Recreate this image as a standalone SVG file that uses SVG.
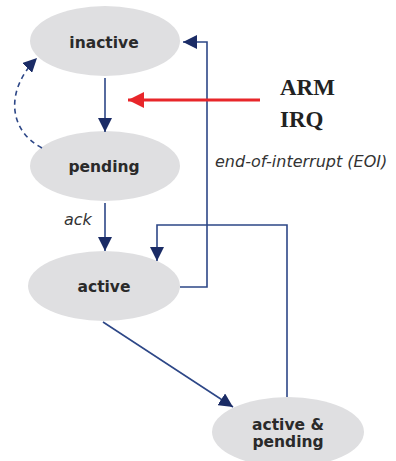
<svg xmlns="http://www.w3.org/2000/svg" width="396" height="461" viewBox="0 0 396 461">
<style>
.node{fill:#dfdfe1}
.lbl{font-family:"DejaVu Sans",sans-serif;font-weight:bold;font-size:15.5px;fill:#2a2a2a;text-anchor:middle}
.edge{fill:none;stroke:#2d4787;stroke-width:1.6}
.it{font-family:"DejaVu Sans",sans-serif;font-style:italic;font-size:16px;fill:#333}
.arm{font-family:"Liberation Serif",serif;font-weight:bold;font-size:23px;fill:#222}
</style>
<defs>
<marker id="ah" viewBox="0 0 10 10" refX="10" refY="5" markerWidth="14" markerHeight="14" markerUnits="userSpaceOnUse" orient="auto">
<path d="M0,0 L10,5 L0,10 z" fill="#1b2c66"/>
</marker>
<marker id="rh" viewBox="0 0 10 10" refX="10" refY="5" markerWidth="16" markerHeight="16" markerUnits="userSpaceOnUse" orient="auto">
<path d="M0,0 L10,5 L0,10 z" fill="#e8262a"/>
</marker>
</defs>
<g id="n-inactive"><ellipse class="node" cx="105" cy="41" rx="75" ry="35"/><text class="lbl" x="104" y="48">inactive</text></g>
<g id="n-pending"><ellipse class="node" cx="105" cy="166" rx="75" ry="35"/><text class="lbl" x="104" y="172">pending</text></g>
<g id="n-active"><ellipse class="node" cx="104" cy="286" rx="76" ry="35"/><text class="lbl" x="104" y="292">active</text></g>
<g id="n-activepending"><ellipse class="node" cx="288" cy="432" rx="76" ry="35"/><text class="lbl" x="288" y="430">active &amp;</text><text class="lbl" x="288" y="447">pending</text></g>
<g id="connectors">
<path class="edge" d="M105,78 L105,132" marker-end="url(#ah)"/>
<path class="edge" d="M42,148 C8,130 5,90 37,58" stroke-dasharray="5,4" marker-end="url(#ah)"/>
<path class="edge" d="M105,203 L105,251" marker-end="url(#ah)"/>
<path class="edge" d="M180,287 L207,287 L207,42 L183,42" marker-end="url(#ah)"/>
<path class="edge" d="M287,397 L287,225 L157,225 L157,261" marker-end="url(#ah)"/>
<path class="edge" d="M103,322 L233,407" marker-end="url(#ah)"/>
<path d="M260,100 L128,100" stroke="#e8262a" stroke-width="3" fill="none" marker-end="url(#rh)"/>
</g>
<text class="it" x="64" y="225">ack</text>
<text class="it" x="215" y="167">end-of-interrupt (EOI)</text>
<text class="arm" x="280" y="95">ARM</text>
<text class="arm" x="280" y="127">IRQ</text>
</svg>
